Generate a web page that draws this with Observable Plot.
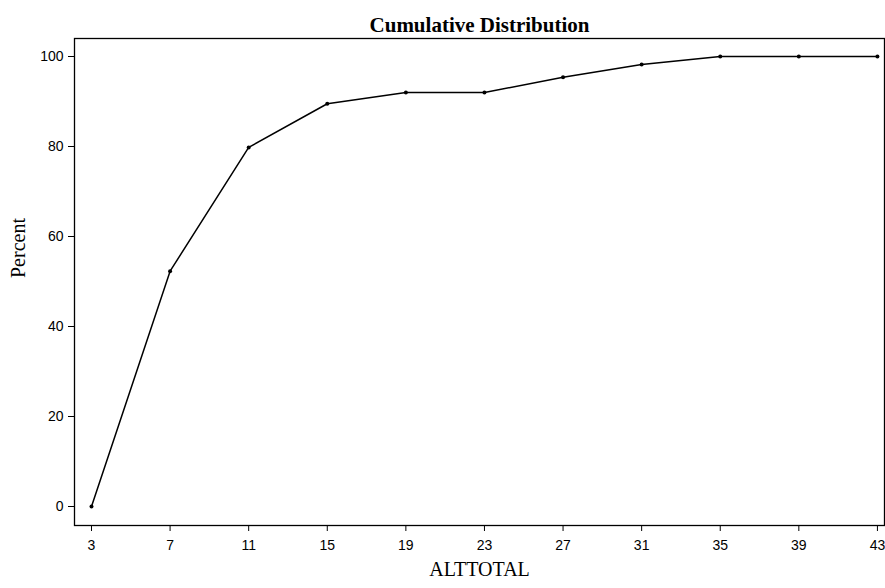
<!DOCTYPE html>
<html>
<head>
<meta charset="utf-8">
<script src="https://cdn.jsdelivr.net/npm/d3@7"></script>
<script src="https://cdn.jsdelivr.net/npm/@observablehq/plot@0.6"></script>
<style>
  html, body { margin: 0; padding: 0; background: #fff; }
</style>
</head>
<body>
<div id="chart"></div>
<script>
const altTotal = [3, 7, 11, 15, 19, 23, 27, 31, 35, 39, 43];
const percent  = [0, 52.3, 79.8, 89.5, 92.0, 92.0, 95.4, 98.2, 100, 100, 100];
const xTicks = [3, 7, 11, 15, 19, 23, 27, 31, 35, 39, 43];
const yTicks = [0, 20, 40, 60, 80, 100];
const title = "Cumulative Distribution";
const xLabel = "ALTTOTAL";
const yLabel = "Percent";

const data = altTotal.map((x, i) => ({x, y: percent[i]}));
const serif = "'Liberation Serif', 'Times New Roman', serif";

const chart = Plot.plot({
  width: 885,
  height: 588,
  marginLeft: 74,
  marginRight: 1,
  marginTop: 38,
  marginBottom: 63,
  style: {fontFamily: "'Liberation Sans', Arial, sans-serif", fontSize: "14px", color: "black", background: "white"},
  x: {domain: [2.135, 43.36]},
  y: {domain: [-4.22, 104]},
  marks: [
    Plot.frame({stroke: "black", strokeWidth: 1.3}),
    Plot.axisX({ticks: xTicks, tickFormat: d => String(d), tickSize: 6, tickPadding: 9, label: null, fontSize: 14}),
    Plot.axisY({ticks: yTicks, tickFormat: d => String(d), tickSize: 6, tickPadding: 5, label: null, fontSize: 14}),
    Plot.line(data, {x: "x", y: "y", stroke: "black", strokeWidth: 1.5}),
    Plot.dot(data, {x: "x", y: "y", r: 2, fill: "black", stroke: null}),
    Plot.text([title], {text: d => d, frameAnchor: "top", dy: -21.5, fontSize: 21, fontWeight: "bold", fontFamily: serif, fill: "black"}),
    Plot.text([xLabel], {text: d => d, frameAnchor: "bottom", dy: 50.5, fontSize: 20, fontFamily: serif, fill: "black"}),
    Plot.text([yLabel], {text: d => d, frameAnchor: "left", dx: -56, dy: -4, rotate: -90, fontSize: 20, fontFamily: serif, fill: "black"})
  ]
});
document.getElementById("chart").appendChild(chart);
</script>
</body>
</html>
